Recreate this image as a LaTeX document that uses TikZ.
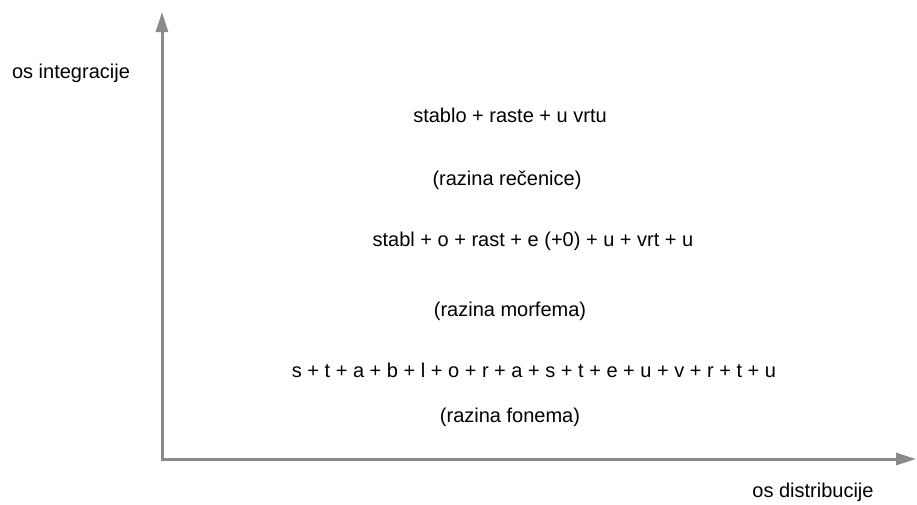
\documentclass[tikz,border=0pt]{standalone}
\usepackage{fontspec}
\setmainfont{Liberation Sans}
\usetikzlibrary{arrows.meta}
\definecolor{axisgray}{HTML}{8A8A8A}
\begin{document}
\begin{tikzpicture}[x=1pt,y=-1pt,
  axis/.style={draw=axisgray,line width=3pt,-{Triangle[length=20pt,width=12pt]}},
  lbl/.style={font=\fontsize{20}{24}\selectfont,text=black,inner sep=0pt,anchor=center}]
  \useasboundingbox (0,0) rectangle (917,504);
  % axes
  \coordinate (origin) at (162,459);
  \coordinate (ytip) at (162,12);
  \coordinate (xtip) at (916,459);
  \draw[axis] ([yshift=1.5pt]origin) -- (ytip);
  \draw[axis] ([xshift=-1.5pt]origin) -- (xtip);
  % axis labels
  \node[lbl] (ylab) at (71,73) {os integracije};
  \node[lbl] (xlab) at (813,492) {os distribucije};
  % levels
  \node[lbl] (sent)  at (510,115) {stablo + raste + u vrtu};
  \node[lbl] (sentl) at (507,180) {(razina rečenice)};
  \node[lbl] (morph) at (533,241) {stabl + o + rast + e (+0) + u + vrt + u};
  \node[lbl] (morphl) at (510,311) {(razina morfema)};
  \node[lbl] (phon)  at (534,370) {s + t + a + b + l + o + r + a + s + t + e + u + v + r + t + u};
  \node[lbl] (phonl) at (510,417) {(razina fonema)};
\end{tikzpicture}
\end{document}
